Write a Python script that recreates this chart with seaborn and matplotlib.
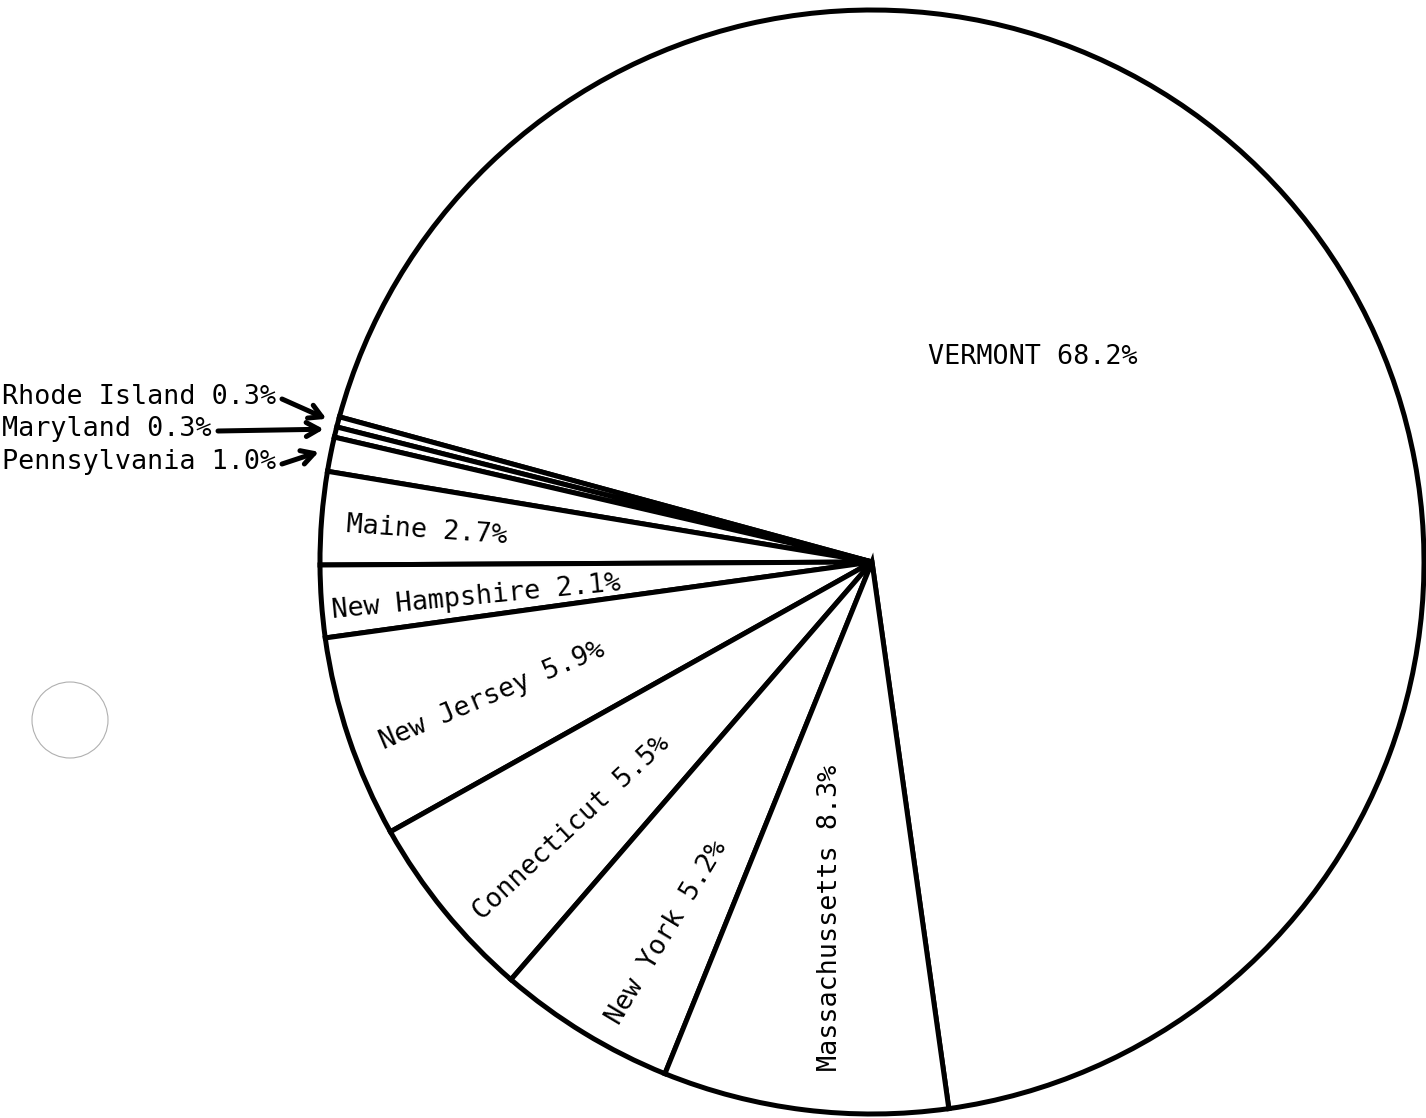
import matplotlib
matplotlib.use("Agg")
import matplotlib.pyplot as plt
import numpy as np
import seaborn as sns
from matplotlib.patches import Circle

sns.set_theme(style='white')
plt.rcParams['font.family'] = ['DejaVu Sans Mono', 'DejaVu Sans']

# shares by state (percent), counterclockwise from Vermont
states = ['VERMONT', 'Rhode Island', 'Maryland', 'Pennsylvania', 'Maine',
          'New Hampshire', 'New Jersey', 'Connecticut', 'New York', 'Massachussetts']
shares = [68.2, 0.3, 0.3, 1.0, 2.7, 2.1, 5.9, 5.5, 5.2, 8.3]

W, H = 1426, 1118
cx, cy, rad = 872, 562, 552   # pie centre / radius in image pixels
start = -82.0


def py(y):
    # image row -> data y
    return H - y


fig = plt.figure(figsize=(W / 100, H / 100), dpi=100)
ax = fig.add_axes([0, 0, 1, 1])

wedges, _ = ax.pie(shares, startangle=start, counterclock=True, center=(cx, py(cy)),
                   radius=rad, colors=['white'] * len(shares),
                   wedgeprops=dict(edgecolor='black', linewidth=3.6))

labels = ['{} {}%'.format(s, v) for s, v in zip(states, shares)]
fs = 19.3

# labels written inside the wedges: (x, y, rotation)
inside = {
    'VERMONT': (1033, 357, 0),
    'Maine': (427, 531, -4),
    'New Hampshire': (476, 597, 5.5),
    'New Jersey': (492, 696, 23),
    'Connecticut': (572, 828, 43),
    'New York': (667, 933, 59),
    'Massachussetts': (830, 918, 90),
}
for s, lab in zip(states, labels):
    if s in inside:
        x, y, rot = inside[s]
        ax.text(x, py(y), lab, fontsize=fs, rotation=rot, rotation_mode='anchor',
                ha='center', va='center', color='black')

# small slices: label at the left with an arrow to the wedge (text row, arrow tail x)
outside = {
    'Rhode Island': (397, 282),
    'Maryland': (429, 218),
    'Pennsylvania': (462, 282),
}
for s, lab, w in zip(states, labels, wedges):
    if s in outside:
        y, x0 = outside[s]
        ax.text(2, py(y), lab, fontsize=fs, ha='left', va='center', color='black')
        mid = np.deg2rad((w.theta1 + w.theta2) / 2)
        tip = (cx + (rad + 12) * np.cos(mid), py(cy) + (rad + 12) * np.sin(mid))
        ax.annotate('', xy=tip, xytext=(x0, py(y + 2)),
                    arrowprops=dict(arrowstyle='->,head_length=0.75,head_width=0.42',
                                    lw=3.6, color='black', shrinkA=0, shrinkB=0))

# faint punch hole from the scanned page
ax.add_patch(Circle((70, py(720)), 38, fill=False, edgecolor='#b0b0b0', linewidth=0.8))

ax.set_xlim(0, W)
ax.set_ylim(0, H)
ax.set_aspect('equal')
ax.axis('off')

fig.savefig('out.png', dpi=100, facecolor='white')
